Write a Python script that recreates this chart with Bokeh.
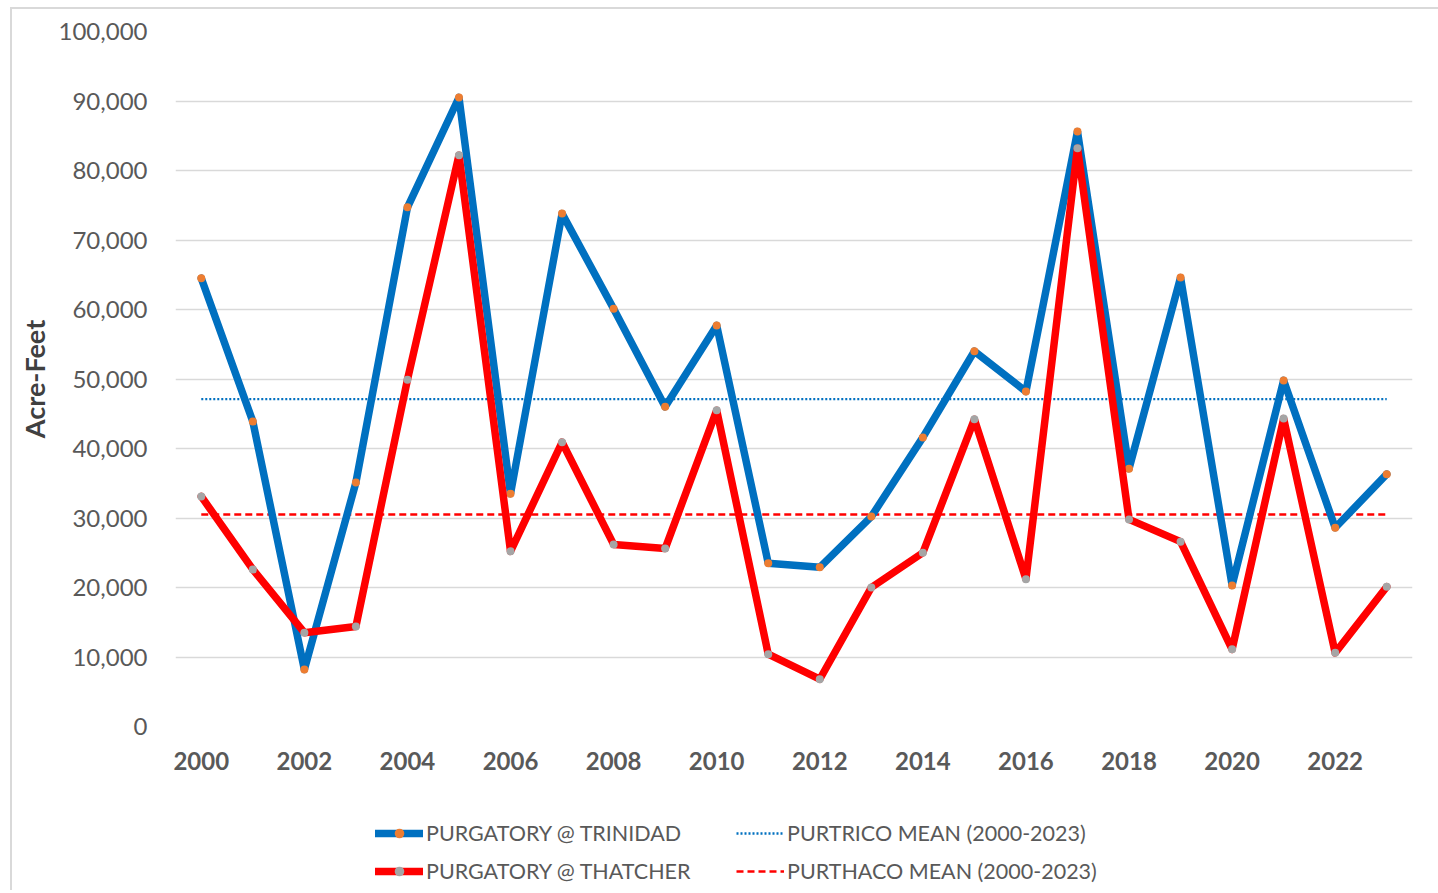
from bokeh.plotting import figure
from bokeh.models import Legend, LegendItem, FixedTicker, Range1d, NumeralTickFormatter
from bokeh.layouts import column
from bokeh.embed import file_html
from bokeh.resources import INLINE

years = list(range(2000, 2024))
trinidad = [64500, 43900, 8200, 35100, 74700, 90500, 33500, 73800, 60100, 46000,
            57700, 23500, 22900, 30200, 41600, 54000, 48200, 85600, 37100, 64600,
            20300, 49800, 28600, 36300]
thatcher = [33100, 22600, 13500, 14400, 49900, 82200, 25200, 40900, 26200, 25600,
            45500, 10400, 6800, 20000, 25000, 44200, 21200, 83200, 29800, 26600,
            11100, 44300, 10600, 20100]
trinidad_mean = 47100
thatcher_mean = 30500
x_ticks = list(range(2000, 2024, 2))
y_ticks = list(range(0, 100001, 10000))
labels = ["PURGATORY @ TRINIDAD", "PURGATORY @ THATCHER",
          "PURTRICO MEAN (2000-2023)", "PURTHACO MEAN (2000-2023)"]

FONT = "Lato"
BLUE, RED, ORANGE, GRAY = "#0070C0", "#FF0000", "#ED7D31", "#A5A5A5"
W = 1426

p = figure(width=W, height=781, output_backend="svg", toolbar_location=None,
           x_range=Range1d(1999.5, 2023.5), y_range=Range1d(0, 100000),
           min_border_left=163, min_border_right=26, min_border_top=22, min_border_bottom=64)
p.outline_line_color = None

p.xgrid.grid_line_color = None
p.ygrid.grid_line_color = "#d9d9d9"
p.ygrid.grid_line_width = 1.3
p.ygrid.ticker = FixedTicker(ticks=y_ticks)

p.yaxis.ticker = FixedTicker(ticks=y_ticks)
p.yaxis.formatter = NumeralTickFormatter(format="0,0")
p.yaxis.axis_line_color = None
p.yaxis.major_tick_line_color = None
p.yaxis.minor_tick_line_color = None
p.yaxis.major_label_text_font = FONT
p.yaxis.major_label_text_font_size = "24px"
p.yaxis.major_label_text_color = "#595959"
p.yaxis.major_label_standoff = 22
p.yaxis.axis_label = "Acre-Feet"
p.yaxis.axis_label_text_font = FONT
p.yaxis.axis_label_text_font_size = "27px"
p.yaxis.axis_label_text_font_style = "bold"
p.yaxis.axis_label_text_color = "#404040"
p.yaxis.axis_label_standoff = 5

p.xaxis.ticker = FixedTicker(ticks=x_ticks)
p.xaxis.axis_line_color = None
p.xaxis.major_tick_line_color = None
p.xaxis.minor_tick_line_color = None
p.xaxis.major_label_text_font = FONT
p.xaxis.major_label_text_font_size = "24px"
p.xaxis.major_label_text_font_style = "bold"
p.xaxis.major_label_text_color = "#595959"
p.xaxis.major_label_standoff = 19


def draw(fig):
    m1 = fig.line(years, [trinidad_mean] * len(years), line_color=BLUE, line_width=2.4, line_dash="2 2")
    m2 = fig.line(years, [thatcher_mean] * len(years), line_color=RED, line_width=2.6, line_dash="7 4")
    l1 = fig.line(years, trinidad, line_color=BLUE, line_width=7.5, line_join="round", line_cap="round")
    s1 = fig.scatter(years, trinidad, size=8, fill_color=ORANGE, line_color=None)
    l2 = fig.line(years, thatcher, line_color=RED, line_width=7.5, line_join="round", line_cap="round")
    s2 = fig.scatter(years, thatcher, size=8, fill_color=GRAY, line_color=None)
    return m1, m2, l1, s1, l2, s2


draw(p)

# legend strip below the chart (its renderers lie outside its own view)
q = figure(width=W, height=100, output_backend="svg", toolbar_location=None,
           x_range=Range1d(0, 1), y_range=Range1d(0, 1),
           min_border_left=0, min_border_right=0, min_border_top=0, min_border_bottom=0)
q.axis.visible = False
q.grid.visible = False
q.outline_line_color = None
m1, m2, l1, s1, l2, s2 = draw(q)

legend = Legend(items=[
    LegendItem(label=labels[0], renderers=[l1, s1]),
    LegendItem(label=labels[1], renderers=[l2, s2]),
    LegendItem(label=labels[2], renderers=[m1]),
    LegendItem(label=labels[3], renderers=[m2]),
], orientation="vertical", ncols=2, location=(200, 6),
    border_line_color=None, background_fill_alpha=0,
    label_text_font=FONT, label_text_font_size="21.5px", label_text_color="#595959",
    glyph_width=48, glyph_height=24, label_standoff=3, spacing=12, label_width=298,
    padding=0, margin=0)
q.add_layout(legend, "center")

layout = column(p, q, spacing=0,
                styles={"margin-left": "10px", "margin-top": "7px",
                        "border-left": "2px solid #d9d9d9", "border-top": "2px solid #d9d9d9"})

open("out.html", "w").write(file_html(layout, INLINE))
